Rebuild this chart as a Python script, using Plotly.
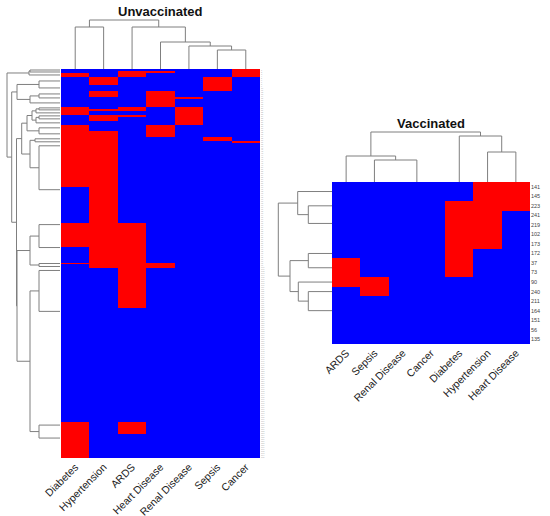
import plotly.graph_objects as go

W, H = 550, 516

# ---------------- Unvaccinated data ----------------
unvax_columns = ["Diabetes", "Hypertension", "ARDS", "Heart Disease",
                 "Renal Disease", "Sepsis", "Cancer"]
# consecutive groups of identical patient rows (top to bottom)
unvax_group_sizes = [1, 1, 2, 4, 3, 3, 1, 4, 1, 1, 2, 1, 2, 2,
                     3, 3, 2, 1, 22, 18, 12, 8, 1, 2, 20, 57, 6, 12]
unvax_group_conditions = [
    ["Cancer"],
    ["ARDS", "Heart Disease", "Cancer"],
    ["Diabetes", "ARDS", "Cancer"],
    ["Hypertension", "Sepsis"],
    ["Sepsis"],
    ["Hypertension", "Heart Disease"],
    ["Heart Disease", "Renal Disease"],
    ["Heart Disease"],
    ["Diabetes", "ARDS", "Renal Disease"],
    ["Diabetes", "Hypertension", "ARDS", "Renal Disease"],
    ["Diabetes", "Renal Disease"],
    ["Hypertension", "ARDS", "Renal Disease"],
    ["Hypertension", "Renal Disease"],
    ["Renal Disease"],
    ["Diabetes", "Heart Disease"],
    ["Diabetes", "Hypertension", "Heart Disease"],
    ["Diabetes", "Hypertension", "Sepsis"],
    ["Diabetes", "Hypertension", "Cancer"],
    ["Diabetes", "Hypertension"],
    ["Hypertension"],
    ["Diabetes", "Hypertension", "ARDS"],
    ["Hypertension", "ARDS"],
    ["Diabetes", "Hypertension", "ARDS", "Heart Disease"],
    ["Hypertension", "ARDS", "Heart Disease"],
    ["ARDS"],
    [],
    ["Diabetes", "ARDS"],
    ["Diabetes"],
]
# row (within group) where the dendrogram branch attaches; None = middle
unvax_group_anchor = [None] * 18 + [1, 1, 0.5, 0, None, None, 0.5, 1, 1, 1.5]
# row dendrogram: (left, right, merge height); ints are group indices
unvax_row_tree = (
    ((0, 1, 30), 2, 31),
    (
        ((3, 4, 21), ((5, 6, 21), 7, 30), 43),
        (
            (
                ((((8, 9, 21), 10, 24), (((11, 12, 21), 13, 24)), 28), (14, 15, 21), 33),
                ((16, 17, 25), (18, 19, 21), 30),
                38.3,
            ),
            (
                ((20, 21, 21), (22, 23, 21), 30),
                ((24, 25, 21), (26, 27, 21), 30),
                43,
            ),
            43.5,
        ),
        48.3,
    ),
    53,
)
unvax_col_tree = ((0, 1, 42), (2, (3, (4, (5, 6, 19), 23), 27), 42), 49)

# ---------------- Vaccinated data ----------------
vax_columns = ["ARDS", "Sepsis", "Renal Disease", "Cancer", "Diabetes",
               "Hypertension", "Heart Disease"]
vax_row_labels = ["141", "145", "223", "241", "219", "102", "173", "172", "37",
                  "73", "90", "240", "211", "164", "151", "56", "135"]
vax_row_conditions = [
    ["Hypertension", "Heart Disease"],
    ["Hypertension", "Heart Disease"],
    ["Diabetes", "Hypertension", "Heart Disease"],
    ["Diabetes", "Hypertension"],
    ["Diabetes", "Hypertension"],
    ["Diabetes", "Hypertension"],
    ["Diabetes", "Hypertension"],
    ["Diabetes"],
    ["ARDS", "Diabetes"],
    ["ARDS", "Diabetes"],
    ["ARDS", "Sepsis"],
    ["Sepsis"],
    [], [], [], [], [],
]
vax_group_sizes = [2, 1, 4, 1, 2, 1, 1, 5]
vax_group_anchor = [None, None, 0.85, None, None, None, None, 1]
vax_row_tree = (
    (0, (1, 2, 23.7), 34.3),
    ((3, 4, 23.7), (5, (6, 7, 23.7), 33.7), 42),
    53.7,
)
vax_col_tree = ((0, (1, (2, 3, 0), 22), 26), (4, (5, 6, 30), 46), 50)

# ---------------- helpers ----------------
def group_leaf_positions(sizes, anchors):
    pos, start = [], 0
    for n, a in zip(sizes, anchors):
        off = (n - 1) / 2 if a is None else a
        pos.append(start + off)
        start += n
    return pos


def dendro_segments(tree, leafpos):
    P, Hh = [], []

    def rec(node):
        if isinstance(node, int):
            return leafpos[node], 0.0
        a, b, h = node
        pa, ha = rec(a)
        pb, hb = rec(b)
        if h > 0:
            P.extend([pa, pa, pb, pb, None])
            Hh.extend([ha, h, h, hb, None])
        return (pa + pb) / 2, h

    rec(tree)
    return P, Hh


def matrix(rows_conditions, columns):
    return [[1 if c in rc else 0 for c in columns] for rc in rows_conditions]


unvax_rows_conditions = []
for n, conds in zip(unvax_group_sizes, unvax_group_conditions):
    unvax_rows_conditions += [conds] * n
N_u = len(unvax_rows_conditions)
unvax_row_labels = [str(i + 1) for i in range(N_u)]
z_u = matrix(unvax_rows_conditions, unvax_columns)
z_v = matrix(vax_row_conditions, vax_columns)
N_v = len(vax_row_labels)

colorscale = [[0, "#0000FF"], [0.5, "#0000FF"], [0.5, "#FF0000"], [1, "#FF0000"]]
line_style = dict(color="#7f7f7f", width=1)
FONT = "Liberation Sans, Arial, sans-serif"

fig = go.Figure()

fig.add_trace(go.Heatmap(z=z_u, x=list(range(7)), y=list(range(N_u)),
                         colorscale=colorscale, zmin=0, zmax=1, showscale=False,
                         xaxis="x", yaxis="y", hoverinfo="skip"))
fig.add_trace(go.Heatmap(z=z_v, x=list(range(7)), y=list(range(N_v)),
                         colorscale=colorscale, zmin=0, zmax=1, showscale=False,
                         xaxis="x2", yaxis="y2", hoverinfo="skip"))

# dendrograms
u_leaf = group_leaf_positions(unvax_group_sizes, unvax_group_anchor)
p, h = dendro_segments(unvax_row_tree, u_leaf)
fig.add_trace(go.Scatter(x=h, y=p, mode="lines", line=line_style,
                         xaxis="x3", yaxis="y", hoverinfo="skip"))
p, h = dendro_segments(unvax_col_tree, list(range(7)))
fig.add_trace(go.Scatter(x=p, y=h, mode="lines", line=line_style,
                         xaxis="x", yaxis="y3", hoverinfo="skip"))
v_leaf = group_leaf_positions(vax_group_sizes, vax_group_anchor)
p, h = dendro_segments(vax_row_tree, v_leaf)
fig.add_trace(go.Scatter(x=h, y=p, mode="lines", line=line_style,
                         xaxis="x4", yaxis="y2", hoverinfo="skip"))
p, h = dendro_segments(vax_col_tree, list(range(7)))
fig.add_trace(go.Scatter(x=p, y=h, mode="lines", line=line_style,
                         xaxis="x2", yaxis="y4", hoverinfo="skip"))

hidden = dict(visible=False, showgrid=False, zeroline=False, automargin=False)


def px_x(a, b):
    return [a / W, b / W]


def px_y(top, bottom):
    return [1 - bottom / H, 1 - top / H]


fig.update_layout(
    width=W, height=H, margin=dict(l=0, r=0, t=0, b=0, autoexpand=False),
    paper_bgcolor="white", plot_bgcolor="rgba(0,0,0,0)", showlegend=False,
    font=dict(family=FONT, color="#222"),
    xaxis=dict(domain=px_x(61, 260), range=[-0.5, 6.5], anchor="y",
               tickmode="array", tickvals=list(range(7)), ticktext=unvax_columns,
               tickangle=-45, tickfont=dict(size=10.5, color="#222"),
               showgrid=False, zeroline=False, showline=False, ticks="",
               automargin=False),
    yaxis=dict(domain=px_y(69, 458), range=[N_u - 0.5, -0.5], anchor="x",
               side="right", tickmode="array", tickvals=list(range(N_u)),
               ticktext=unvax_row_labels, tickfont=dict(size=2, color="#aaaaaa"),
               showgrid=False, zeroline=False, ticks="", automargin=False),
    xaxis2=dict(domain=px_x(332, 530), range=[-0.5, 6.5], anchor="y2",
                tickmode="array", tickvals=list(range(7)), ticktext=vax_columns,
                tickangle=-45, tickfont=dict(size=10.5, color="#222"),
                showgrid=False, zeroline=False, showline=False, ticks="",
                automargin=False),
    yaxis2=dict(domain=px_y(182, 344), range=[N_v - 0.5, -0.5], anchor="x2",
                side="right", tickmode="array", tickvals=list(range(N_v)),
                ticktext=vax_row_labels, tickfont=dict(size=5.5, color="#444"),
                showgrid=False, zeroline=False, ticks="", automargin=False),
    xaxis3=dict(domain=px_x(0, 60), range=[60, 0], anchor="y", **hidden),
    yaxis3=dict(domain=px_y(0, 69), range=[0, 69], anchor="x", **hidden),
    xaxis4=dict(domain=px_x(272, 332), range=[60, 0], anchor="y2", **hidden),
    yaxis4=dict(domain=px_y(122, 182), range=[0, 60], anchor="x2", **hidden),
    annotations=[
        dict(text="<b>Unvaccinated</b>", x=160 / W, y=1 - 11 / H, xref="paper",
             yref="paper", showarrow=False, font=dict(size=13, color="#111"),
             xanchor="center", yanchor="middle"),
        dict(text="<b>Vaccinated</b>", x=431 / W, y=1 - 124 / H, xref="paper",
             yref="paper", showarrow=False, font=dict(size=13, color="#111"),
             xanchor="center", yanchor="middle"),
    ],
)

fig.write_html("out.html", config={"displayModeBar": False},
               post_script="document.body.style.margin='0px';"
                           "document.body.style.overflow='hidden';")
